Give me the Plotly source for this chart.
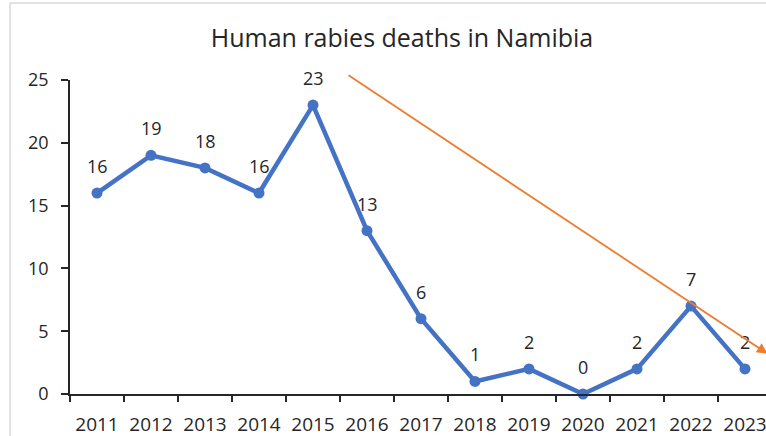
import plotly.graph_objects as go

years = ["2011", "2012", "2013", "2014", "2015", "2016", "2017",
         "2018", "2019", "2020", "2021", "2022", "2023"]
deaths = [16, 19, 18, 16, 23, 13, 6, 1, 2, 0, 2, 7, 2]
title_text = "Human rabies deaths in Namibia"
y_ticks = [0, 5, 10, 15, 20, 25]

FONT = "Open Sans"
TXT = "#262626"
BLUE = "#4472C4"
ORANGE = "#ED7D31"

W, H = 766, 436
ML, MR, MT, MB = 70, 0, 80, 42
cat_px = 54.0
plot_w = W - ML - MR
plot_h = H - MT - MB
x_max = -0.5 + plot_w / cat_px

fig = go.Figure()
fig.add_trace(go.Scatter(
    x=years, y=deaths, mode="lines+markers",
    line=dict(color=BLUE, width=4.5),
    marker=dict(color=BLUE, size=11),
    cliponaxis=False, hoverinfo="skip", showlegend=False,
))

for i, v in enumerate(deaths):
    fig.add_annotation(x=i, y=v, xref="x", yref="y", text=str(v), showarrow=False,
                       yshift=27, font=dict(family=FONT, size=18, color=TXT))

# trend arrow (orange)
fig.add_annotation(
    x=12.42, y=3.2, ax=4.63, ay=25.45, xref="x", yref="y", axref="x", ayref="y",
    showarrow=True, arrowhead=2, arrowsize=1.2, arrowwidth=1.8,
    arrowcolor=ORANGE, text="",
)

# chart-area border (light gray)
bx = (10 - ML) / plot_w
by = (plot_h + MT - 3) / plot_h
fig.add_shape(type="line", xref="paper", yref="paper",
              x0=bx, x1=bx, y0=-0.3, y1=by,
              line=dict(color="#D9D9D9", width=1.5))
fig.add_shape(type="line", xref="paper", yref="paper",
              x0=bx, x1=1.2, y0=by, y1=by,
              line=dict(color="#D9D9D9", width=1.5))

fig.update_layout(
    width=W, height=H,
    margin=dict(l=ML, r=MR, t=MT, b=MB, autoexpand=False),
    paper_bgcolor="white", plot_bgcolor="white",
    title=dict(text=title_text, x=402 / W, xanchor="center",
               y=1 - 38 / H, yanchor="middle", xref="container", yref="container",
               font=dict(family=FONT, size=25, color=TXT)),
    font=dict(family=FONT, color=TXT),
)
fig.update_xaxes(
    type="category", range=[-0.5, x_max], showgrid=False, zeroline=False,
    showline=True, linecolor=TXT, linewidth=1.8,
    ticks="outside", ticklen=6, tickwidth=1.8, tickcolor=TXT, tickson="boundaries",
    tickfont=dict(family=FONT, size=19, color=TXT), ticklabelstandoff=12,
)
fig.update_yaxes(
    range=[0, 25], tickvals=y_ticks, showgrid=False, zeroline=False,
    showline=True, linecolor=TXT, linewidth=1.8,
    ticks="outside", ticklen=7, tickwidth=1.8, tickcolor=TXT,
    tickfont=dict(family=FONT, size=18, color=TXT), ticklabelstandoff=9,
)

fig.write_html(
    "out.html",
    config={"displayModeBar": False},
    post_script="document.body.style.margin='0';"
                "document.documentElement.style.overflow='hidden';"
                "document.body.style.overflow='hidden';",
)
